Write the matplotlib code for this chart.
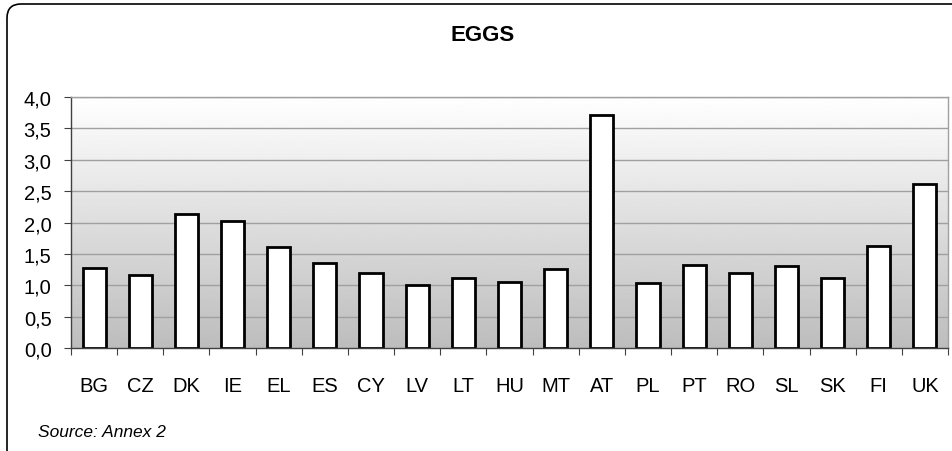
import matplotlib
matplotlib.use("Agg")
import matplotlib.pyplot as plt
import numpy as np
from matplotlib.patches import FancyBboxPatch
from matplotlib.ticker import FixedLocator, FuncFormatter

plt.rcParams["font.family"] = ["Liberation Sans", "DejaVu Sans"]

countries = ["BG", "CZ", "DK", "IE", "EL", "ES", "CY", "LV", "LT", "HU",
             "MT", "AT", "PL", "PT", "RO", "SL", "SK", "FI", "UK"]
values = [1.28, 1.16, 2.14, 2.03, 1.61, 1.35, 1.19, 1.00, 1.12, 1.05,
          1.26, 3.71, 1.03, 1.33, 1.19, 1.30, 1.12, 1.63, 2.61]
y_ticks = [0.0, 0.5, 1.0, 1.5, 2.0, 2.5, 3.0, 3.5, 4.0]

W, H = 952, 452
fig = plt.figure(figsize=(W / 100, H / 100), dpi=100)

# outer rounded frame (clipped by the right and bottom edges)
frame = fig.add_axes([0, 0, 1, 1], zorder=0)
frame.set_xlim(0, W)
frame.set_ylim(H, 0)
frame.axis("off")
frame.add_patch(FancyBboxPatch((7, 5), 960, 460,
                               boxstyle="round,pad=0,rounding_size=14",
                               fc="white", ec="black", lw=1.2))

ax = fig.add_axes([71 / W, 1 - 349 / H, (948 - 71) / W, (349 - 98) / H], zorder=1)
n = len(countries)
x = np.arange(n)
ax.set_xlim(-0.5, n - 0.5)
ax.set_ylim(0, 4.0)

# grey gradient background, white at top
grad = np.linspace(0.74, 1.0, 256).reshape(-1, 1)
ax.imshow(grad, cmap="gray", vmin=0, vmax=1, origin="lower", aspect="auto",
          extent=(-0.5, n - 0.5, 0, 4.0), zorder=0)

for t in y_ticks[1:]:
    ax.axhline(t, color="#a0a0a0", lw=1.0, zorder=1)

ax.bar(x, values, width=0.5, color="white", edgecolor="black", lw=2.0, zorder=2)

fig.text(483 / W, 1 - 35.5 / H, "EGGS", fontsize=16, fontweight="bold",
         ha="center", va="center")

ax.yaxis.set_major_locator(FixedLocator(y_ticks))
ax.yaxis.set_major_formatter(FuncFormatter(lambda v, p: f"{v:.1f}".replace(".", ",")))
ax.tick_params(axis="y", length=5, width=0.8, color="#404040", pad=9, labelsize=14.5)

# ticks between categories, labels at the centres
ax.xaxis.set_major_locator(FixedLocator(np.arange(-0.5, n, 1.0)))
ax.xaxis.set_major_formatter(FuncFormatter(lambda v, p: ""))
ax.xaxis.set_minor_locator(FixedLocator(x))
ax.set_xticks(x, countries, minor=True)
ax.tick_params(axis="x", which="major", length=5, width=0.8, color="#404040")
ax.tick_params(axis="x", which="minor", length=0, pad=20, labelsize=14.5)

for side in ("top", "right"):
    ax.spines[side].set_color("#a0a0a0")
    ax.spines[side].set_linewidth(1.0)
for side in ("left", "bottom"):
    ax.spines[side].set_color("#404040")
    ax.spines[side].set_linewidth(1.0)

fig.text(38 / W, 1 - 437 / H, "Source: Annex 2", fontsize=12.5, style="italic",
         va="baseline", ha="left")

fig.savefig("out.png", dpi=100)
